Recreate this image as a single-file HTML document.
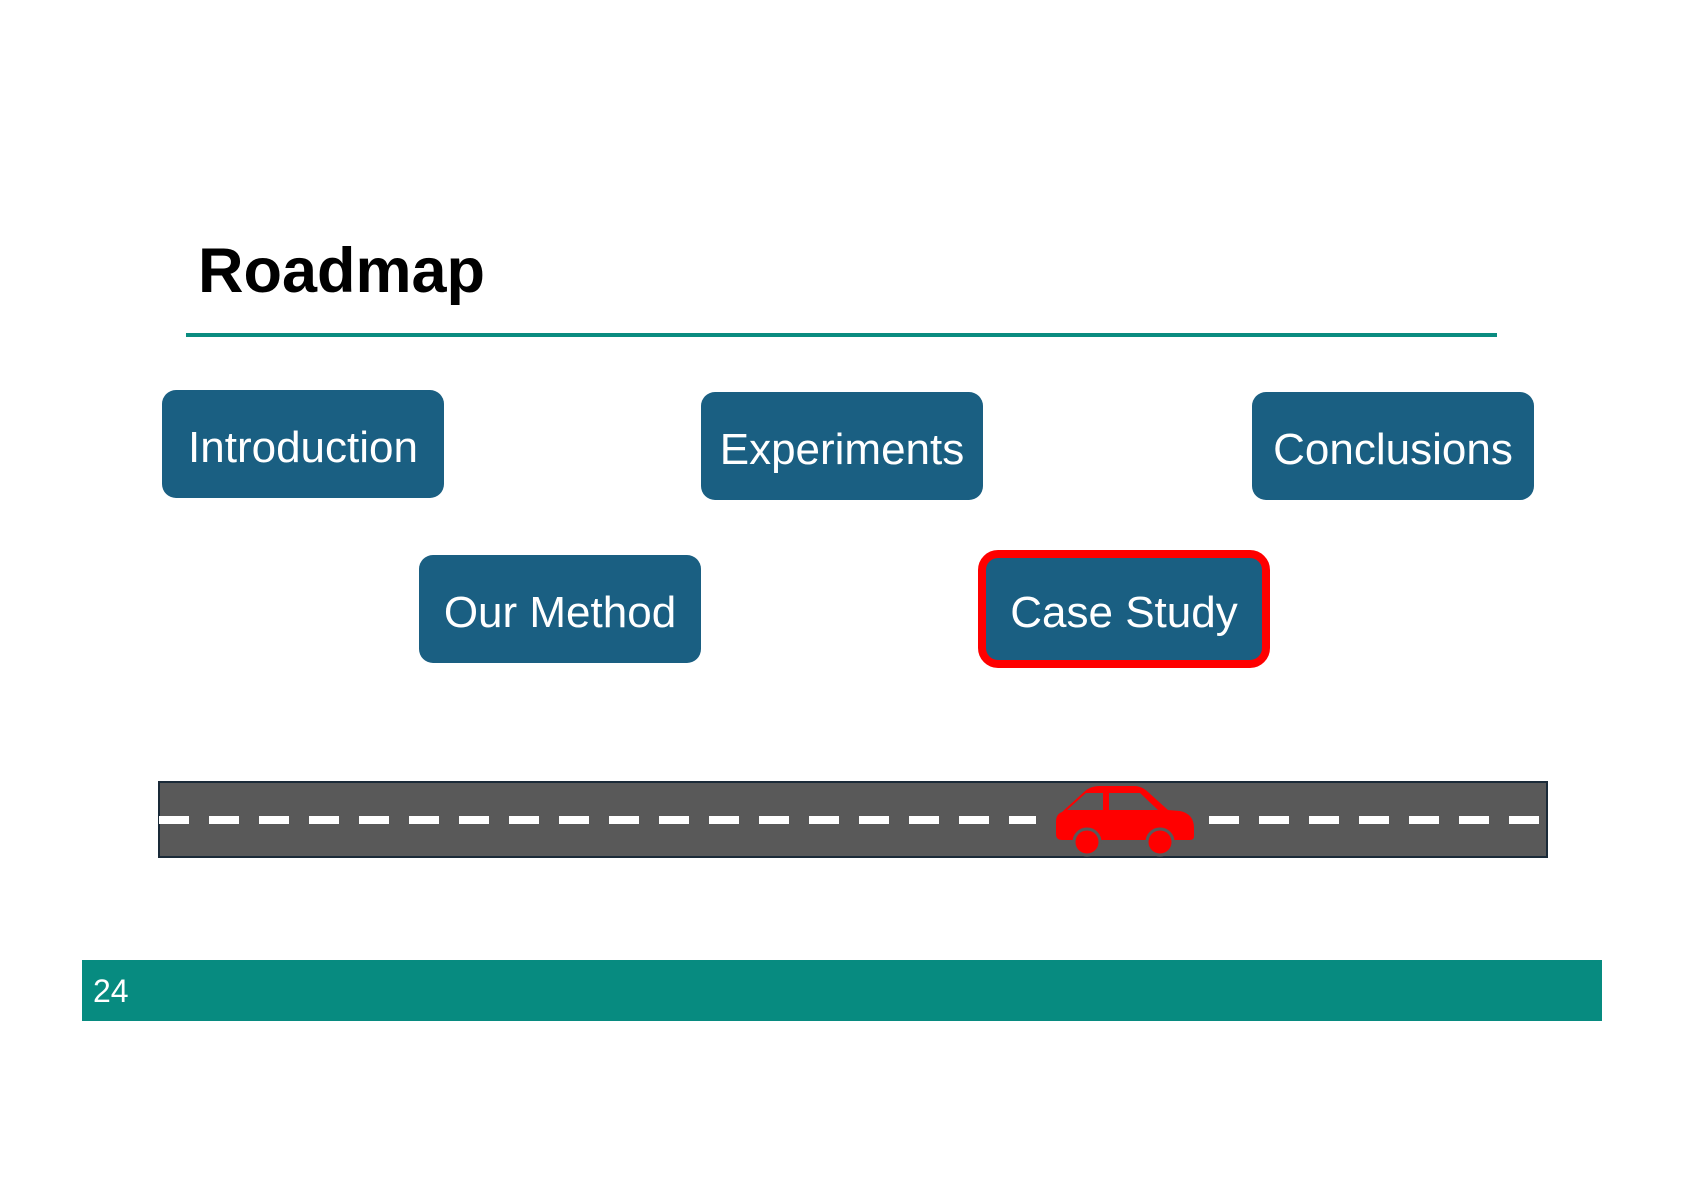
<!DOCTYPE html>
<html><head><style>
body{margin:0;width:1684px;height:1190px;background:#fff;position:relative;overflow:hidden;font-family:"Liberation Sans",Arial,sans-serif}
.b{position:absolute;background:#1a5f82;border-radius:14px;color:#fff;font-size:44px;display:flex;align-items:center;justify-content:center;box-sizing:border-box;padding-top:8px}
</style></head><body>
<div style="position:absolute;left:198px;top:235px;font-size:63px;font-weight:bold;color:#000">Roadmap</div>
<div style="position:absolute;left:186px;top:333px;width:1311px;height:4px;background:#0a8c80"></div>
<div class="b" style="left:162px;top:390px;width:282px;height:108px">Introduction</div>
<div class="b" style="left:701px;top:392px;width:282px;height:108px">Experiments</div>
<div class="b" style="left:1252px;top:392px;width:282px;height:108px">Conclusions</div>
<div class="b" style="left:419px;top:555px;width:282px;height:108px">Our Method</div>
<div class="b" style="left:978px;top:550px;width:292px;height:118px;border:8px solid #f00;border-radius:20px">Case Study</div>
<svg style="position:absolute;left:0;top:0" width="1684" height="1190">
<rect x="159" y="782" width="1388" height="75" fill="#595959" stroke="#1a2a38" stroke-width="2"/>
<line x1="159" y1="820" x2="1547" y2="820" stroke="#fff" stroke-width="8" stroke-dasharray="30 20"/>
<rect x="1036" y="800" width="170" height="40" fill="#595959"/>
<g fill="#f00">
<path d="M1062 812 L1084 792 Q1090 786 1100 786 L1134 786 Q1142 786 1148 792 L1168 810 L1180 811 Q1194 814 1194 828 L1194 836 Q1194 840 1190 840 L1062 840 Q1056 840 1056 834 L1056 822 Q1056 814 1062 812 Z"/>
<circle cx="1087" cy="842" r="13" stroke="#595959" stroke-width="3"/>
<circle cx="1160" cy="842" r="13" stroke="#595959" stroke-width="3"/>
</g>
<path d="M1067 810 L1086 793 L1103 793 L1103 810 Z" fill="#595959"/>
<path d="M1109 810 L1109 793 L1140 793 L1158 810 Z" fill="#595959"/>
</svg>
<div style="position:absolute;left:82px;top:960px;width:1520px;height:61px;background:#078b80"></div>
<div style="position:absolute;left:93px;top:973px;font-size:32px;color:#fff">24</div>
</body></html>
